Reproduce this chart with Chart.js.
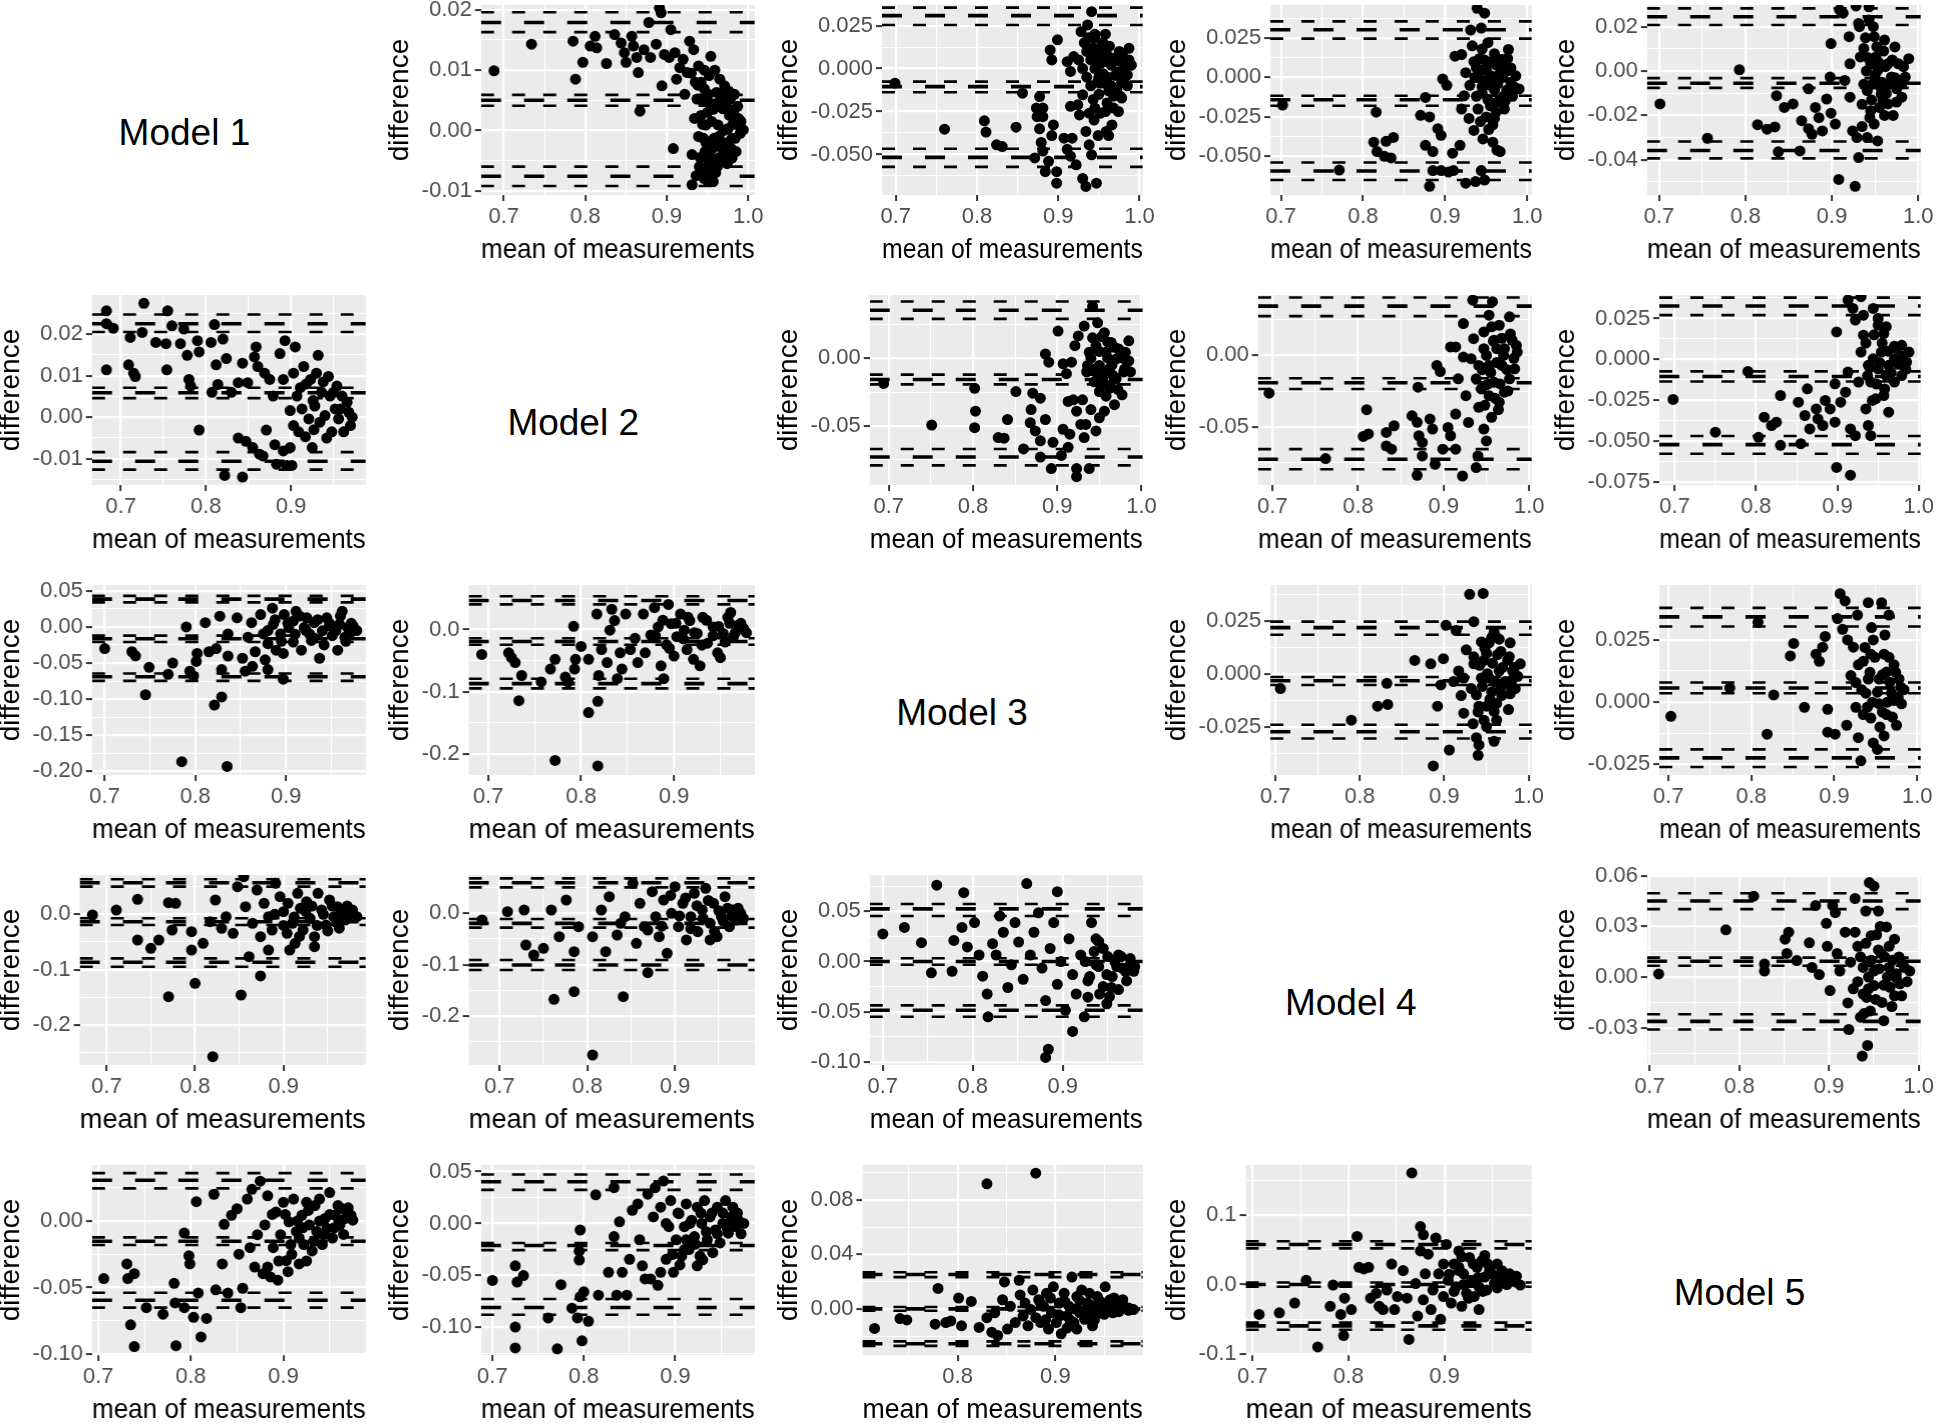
<!DOCTYPE html>
<html>
<head>
<meta charset="utf-8">
<script src="https://cdn.jsdelivr.net/npm/chart.js@4.4.1/dist/chart.umd.min.js"></script>
<style>
  body { margin: 0; background: #fff; }
  #page { position: relative; width: 1944px; height: 1425px; overflow: hidden; font-family: "Liberation Sans", Arial, sans-serif; }
  .cell { position: absolute; }
  .model { position: absolute; display: flex; align-items: center; justify-content: center; font-size: 37px; color: #000; }
</style>
</head>
<body>
<div id="page"></div>
<script>
// x tick labels
const xt4 = ['0.7', '0.8', '0.9', '1.0'];
const xt3 = ['0.7', '0.8', '0.9'];
const xt2 = ['0.8', '0.9'];

// limits of agreement: upper (ci hi, est, ci lo), mean (hi, est, lo), lower (hi, est, lo)
// Model 1 vs 2
const p12_xr = [0.672, 1.008];
const p12_yr = [-0.0107, 0.0208];
const p12_yt = ['-0.01', '0.00', '0.01', '0.02'];
const p12_lim = [0.0196, 0.0179, 0.0163, 0.0059, 0.0050, 0.0041, -0.0060, -0.0076, -0.0092];
const p12 = [[0.688,0.0099],[0.734,0.0143],[0.785,0.0148],[0.788,0.0085],[0.797,0.0113],[0.806,0.0140],[0.812,0.0156],[0.814,0.0137],[0.826,0.0111],[0.836,0.0159],[0.844,0.0145],[0.848,0.0129],[0.850,0.0113],[0.857,0.0156],[0.859,0.0140],[0.863,0.0121],[0.865,0.0096],[0.867,0.0032],[0.872,0.0134],[0.878,0.0179],[0.880,0.0121],[0.887,0.0143],[0.891,0.0203],[0.893,0.0195],[0.894,0.0074],[0.897,0.0126],[0.903,0.0121],[0.905,0.0167],[0.908,-0.0030],[0.910,0.0129],[0.912,0.0085],[0.916,0.0104],[0.920,0.0118],[0.925,0.0096],[0.928,0.0148],[0.931,-0.0040],[0.931,-0.0090],[0.933,0.0134],[0.935,0.0080],[0.937,0.0052],[0.939,0.0107],[0.942,0.0025],[0.944,-0.0068],[0.945,-0.0013],[0.946,0.0069],[0.948,0.0009],[0.950,-0.0084],[0.952,0.0091],[0.954,0.0123],[0.954,0.0042],[0.956,-0.0030],[0.958,-0.0057],[0.961,0.0063],[0.963,0.0009],[0.965,0.0085],[0.967,-0.0019],[0.969,0.0036],[0.971,0.0074],[0.973,-0.0040],[0.975,0.0003],[0.978,0.0052],[0.980,-0.0046],[0.982,0.0031],[0.984,-0.0013],[0.988,0.0020],[0.994,0.0001],[0.980,-0.0013],[0.958,-0.0013],[0.940,-0.0060],[0.947,-0.0035],[0.952,-0.0050],[0.960,-0.0025],[0.962,0.0040],[0.970,0.0000],[0.975,-0.0020],[0.965,-0.0045],[0.955,0.0015],[0.950,0.0030],[0.943,0.0050],[0.938,0.0075],[0.930,0.0095],[0.922,0.0060],[0.968,0.0060],[0.977,0.0025],[0.986,0.0010],[0.990,-0.0005],[0.946,-0.0080],[0.953,-0.0075],[0.960,-0.0070],[0.936,-0.0075],[0.941,-0.0045],[0.944,0.0010],[0.949,-0.0060],[0.951,0.0060],[0.955,-0.0045],[0.957,0.0035],[0.959,0.0100],[0.962,-0.0060],[0.964,-0.0010],[0.966,0.0050],[0.968,-0.0030],[0.972,0.0040],[0.974,-0.0055],[0.976,0.0065],[0.979,-0.0030],[0.981,0.0010],[0.983,0.0060],[0.985,-0.0035],[0.987,0.0040],[0.991,0.0015],[0.946,0.0100],[0.942,0.0080],[0.939,-0.0010],[0.934,0.0020],[0.957,-0.0085],[0.948,-0.0020]];

// Model 1 vs 3
const p13_xr = [0.683, 1.004];
const p13_yr = [-0.0736, 0.037];
const p13_yt = ['-0.050', '-0.025', '0.000', '0.025'];
const p13_lim = [0.0355, 0.0308, 0.0254, -0.0076, -0.0105, -0.0138, -0.0467, -0.0517, -0.0572];
const p13 = [[0.699,-0.0085],[0.760,-0.0353],[0.809,-0.0304],[0.811,-0.0370],[0.848,-0.0341],[0.824,-0.0444],[0.831,-0.0454],[0.856,-0.0143],[0.877,-0.0163],[0.873,-0.0230],[0.881,-0.0230],[0.874,-0.0280],[0.881,-0.0280],[0.877,-0.0351],[0.894,-0.0328],[0.892,-0.0390],[0.879,-0.0430],[0.871,-0.0520],[0.881,-0.0480],[0.888,-0.0540],[0.884,-0.0600],[0.898,-0.0600],[0.898,-0.0667],[0.907,-0.0405],[0.917,-0.0405],[0.911,-0.0470],[0.915,-0.0510],[0.922,-0.0560],[0.930,-0.0640],[0.934,-0.0686],[0.947,-0.0667],[0.934,-0.0366],[0.938,-0.0444],[0.941,-0.0502],[0.949,-0.0390],[0.962,-0.0390],[0.890,0.0108],[0.892,0.0050],[0.899,0.0167],[0.911,0.0040],[0.915,-0.0017],[0.919,0.0070],[0.928,0.0215],[0.941,0.0331],[0.936,0.0254],[0.945,0.0176],[0.951,0.0118],[0.987,0.0118],[0.983,0.0040],[0.985,-0.0037],[0.978,-0.0172],[0.974,-0.0250],[0.966,-0.0328],[0.959,-0.0366],[0.924,-0.0211],[0.926,-0.0270],[0.915,-0.0220],[0.930,-0.0153],[0.945,-0.0230],[0.935,0.0100],[0.940,0.0050],[0.945,0.0000],[0.950,-0.0050],[0.955,0.0150],[0.960,0.0080],[0.965,0.0020],[0.970,-0.0040],[0.975,0.0100],[0.980,0.0000],[0.940,-0.0100],[0.950,-0.0150],[0.960,-0.0200],[0.965,-0.0100],[0.955,-0.0030],[0.972,0.0050],[0.978,-0.0080],[0.945,0.0200],[0.958,0.0200],[0.930,0.0000],[0.935,-0.0050],[0.925,0.0050],[0.968,-0.0160],[0.952,-0.0260],[0.990,0.0020],[0.985,-0.0100],[0.932,0.0150],[0.937,0.0180],[0.942,0.0120],[0.947,0.0080],[0.952,0.0030],[0.957,-0.0080],[0.962,-0.0130],[0.967,0.0060],[0.973,-0.0020],[0.977,0.0040],[0.982,-0.0050],[0.987,0.0050],[0.943,-0.0180],[0.948,-0.0080],[0.953,0.0100],[0.958,-0.0250],[0.963,0.0130],[0.968,-0.0230],[0.972,-0.0120],[0.976,-0.0160],[0.938,-0.0260],[0.944,-0.0300],[0.956,0.0040],[0.961,-0.0050],[0.979,0.0080]];

// Model 1 vs 4
const p14_xr = [0.687, 1.0055];
const p14_yr = [-0.0745, 0.0459];
const p14_yt = ['-0.050', '-0.025', '0.000', '0.025'];
const p14_lim = [0.0355, 0.0302, 0.0246, -0.0116, -0.0141, -0.0179, -0.0539, -0.0593, -0.0650];
const p14 = [[0.702,-0.0175],[0.771,-0.0587],[0.816,-0.0220],[0.813,-0.0410],[0.817,-0.0470],[0.828,-0.0405],[0.837,-0.0380],[0.826,-0.0500],[0.834,-0.0510],[0.876,-0.0127],[0.870,-0.0240],[0.881,-0.0250],[0.876,-0.0430],[0.885,-0.0470],[0.891,-0.0325],[0.895,-0.0367],[0.881,-0.0690],[0.885,-0.0590],[0.895,-0.0590],[0.904,-0.0600],[0.910,-0.0590],[0.909,-0.0480],[0.918,-0.0430],[0.925,-0.0670],[0.937,-0.0660],[0.948,-0.0650],[0.944,-0.0590],[0.897,-0.0010],[0.902,-0.0050],[0.912,0.0135],[0.920,0.0145],[0.931,0.0300],[0.939,0.0438],[0.948,0.0407],[0.944,0.0313],[0.925,0.0030],[0.923,-0.0116],[0.920,-0.0200],[0.929,-0.0260],[0.935,-0.0336],[0.946,-0.0390],[0.958,-0.0410],[0.963,-0.0460],[0.967,-0.0470],[0.986,0.0010],[0.990,-0.0073],[0.977,0.0177],[0.969,0.0114],[0.952,0.0220],[0.935,0.0100],[0.940,0.0000],[0.945,-0.0100],[0.950,0.0050],[0.955,-0.0050],[0.960,0.0150],[0.965,-0.0150],[0.970,0.0000],[0.975,-0.0080],[0.980,0.0060],[0.940,-0.0200],[0.950,-0.0250],[0.958,-0.0300],[0.945,0.0180],[0.962,0.0080],[0.972,-0.0200],[0.930,-0.0050],[0.955,-0.0180],[0.968,0.0100],[0.982,-0.0120],[0.948,-0.0020],[0.938,0.0060],[0.960,-0.0080],[0.975,0.0040],[0.933,0.0200],[0.938,-0.0120],[0.942,0.0120],[0.947,0.0050],[0.952,-0.0140],[0.957,0.0100],[0.962,-0.0220],[0.966,0.0020],[0.971,-0.0120],[0.976,0.0120],[0.980,-0.0030],[0.984,-0.0060],[0.943,-0.0280],[0.953,-0.0330],[0.936,0.0000],[0.956,0.0010],[0.964,-0.0040],[0.948,0.0110],[0.960,-0.0260],[0.970,0.0080],[0.945,-0.0060],[0.973,-0.0150]];

// Model 1 vs 5
const p15_xr = [0.686, 1.003];
const p15_yr = [-0.0559, 0.0298];
const p15_yt = ['-0.04', '-0.02', '0.00', '0.02'];
const p15_lim = [0.0283, 0.0245, 0.0208, -0.0032, -0.0055, -0.0076, -0.0318, -0.0358, -0.0394];
const p15 = [[0.701,-0.0148],[0.756,-0.0303],[0.793,0.0006],[0.814,-0.0242],[0.825,-0.0262],[0.834,-0.0252],[0.836,-0.0111],[0.838,-0.0364],[0.863,-0.0360],[0.845,-0.0164],[0.855,-0.0148],[0.865,-0.0224],[0.873,-0.0080],[0.873,-0.0260],[0.877,-0.0285],[0.885,-0.0210],[0.889,-0.0270],[0.881,-0.0164],[0.894,-0.0126],[0.898,-0.0027],[0.899,0.0124],[0.904,-0.0239],[0.899,-0.0190],[0.908,-0.0489],[0.927,-0.0520],[0.931,-0.0390],[0.924,-0.0270],[0.929,-0.0300],[0.909,0.0276],[0.913,0.0261],[0.920,0.0155],[0.928,0.0294],[0.943,0.0290],[0.943,0.0230],[0.931,0.0215],[0.932,0.0200],[0.921,-0.0118],[0.915,-0.0042],[0.921,0.0033],[0.933,0.0064],[0.937,0.0102],[0.949,-0.0239],[0.945,-0.0179],[0.941,-0.0300],[0.953,-0.0315],[0.971,-0.0200],[0.963,-0.0102],[0.989,0.0056],[0.985,-0.0027],[0.981,-0.0058],[0.973,0.0109],[0.961,0.0140],[0.953,0.0003],[0.947,-0.0058],[0.977,0.0033],[0.965,0.0033],[0.957,-0.0103],[0.955,-0.0164],[0.965,-0.0148],[0.969,-0.0027],[0.981,-0.0118],[0.951,0.0064],[0.945,0.0033],[0.941,-0.0088],[0.949,0.0155],[0.940,0.0000],[0.958,-0.0050],[0.975,-0.0080],[0.960,0.0090],[0.935,-0.0150],[0.937,-0.0060],[0.942,0.0060],[0.946,-0.0130],[0.950,-0.0020],[0.954,0.0040],[0.956,-0.0070],[0.959,-0.0130],[0.962,0.0020],[0.966,-0.0060],[0.970,0.0050],[0.973,-0.0030],[0.978,-0.0060],[0.983,0.0020],[0.952,0.0110],[0.944,-0.0210],[0.961,-0.0200],[0.975,-0.0140],[0.939,0.0150],[0.948,0.0200],[0.935,-0.0250]];

// Model 2 vs 1
const p21_xr = [0.666, 0.988];
const p21_yr = [-0.0163, 0.0294];
const p21_yt = ['-0.01', '0.00', '0.01', '0.02'];
const p21_lim = [0.0247, 0.0225, 0.0205, 0.0071, 0.0059, 0.0046, -0.0084, -0.0106, -0.0126];
const p21 = [[0.683,0.0256],[0.683,0.0225],[0.691,0.0214],[0.683,0.0114],[0.727,0.0274],[0.725,0.0204],[0.709,0.0126],[0.711,0.0192],[0.717,0.0098],[0.715,0.0106],[0.741,0.0180],[0.753,0.0177],[0.755,0.0256],[0.760,0.0220],[0.754,0.0114],[0.770,0.0177],[0.774,0.0212],[0.778,0.0149],[0.780,0.0091],[0.782,0.0075],[0.790,0.0184],[0.792,0.0157],[0.792,-0.0031],[0.806,0.0180],[0.810,0.0223],[0.812,0.0126],[0.814,0.0079],[0.807,0.0060],[0.822,-0.0140],[0.824,0.0141],[0.820,0.0188],[0.830,0.0060],[0.838,-0.0050],[0.843,-0.0144],[0.843,0.0130],[0.838,0.0083],[0.849,0.0083],[0.847,-0.0058],[0.855,-0.0073],[0.859,0.0169],[0.857,0.0145],[0.861,0.0122],[0.863,-0.0089],[0.867,-0.0093],[0.871,-0.0031],[0.869,0.0106],[0.875,0.0091],[0.879,0.0051],[0.881,-0.0066],[0.883,-0.0113],[0.887,0.0153],[0.893,0.0184],[0.891,0.0091],[0.891,-0.0081],[0.895,-0.0116],[0.899,-0.0073],[0.901,-0.0116],[0.903,0.0106],[0.905,0.0169],[0.903,-0.0020],[0.899,0.0016],[0.907,0.0051],[0.909,-0.0035],[0.911,0.0071],[0.913,0.0020],[0.915,0.0122],[0.917,-0.0047],[0.921,-0.0004],[0.923,0.0091],[0.925,-0.0073],[0.928,0.0027],[0.930,0.0106],[0.932,0.0149],[0.934,-0.0012],[0.936,0.0060],[0.940,0.0004],[0.942,-0.0050],[0.944,0.0098],[0.946,0.0051],[0.948,-0.0035],[0.952,0.0020],[0.954,0.0075],[0.956,-0.0004],[0.960,0.0051],[0.962,-0.0035],[0.966,0.0036],[0.968,0.0012],[0.970,-0.0020],[0.972,0.0000],[0.918,0.0080],[0.926,0.0040],[0.938,0.0085],[0.950,0.0060],[0.958,0.0020],[0.927,-0.0030]];

// Model 2 vs 3
const p23_xr = [0.6775, 1.0016];
const p23_yr = [-0.0935, 0.0466];
const p23_yt = ['-0.05', '0.00'];
const p23_lim = [0.0418, 0.0353, 0.0290, -0.0121, -0.0157, -0.0193, -0.0669, -0.0729, -0.0790];
const p23 = [[0.694,-0.0186],[0.751,-0.0493],[0.802,-0.0222],[0.803,-0.0391],[0.802,-0.0512],[0.830,-0.0585],[0.837,-0.0590],[0.841,-0.0452],[0.851,-0.0246],[0.860,-0.0669],[0.869,-0.0379],[0.871,-0.0258],[0.880,-0.0295],[0.868,-0.0476],[0.874,-0.0536],[0.880,-0.0609],[0.886,-0.0452],[0.880,-0.0729],[0.893,-0.0814],[0.895,-0.0620],[0.905,-0.0717],[0.907,-0.0524],[0.915,-0.0560],[0.913,-0.0657],[0.923,-0.0814],[0.923,-0.0874],[0.938,-0.0814],[0.901,0.0200],[0.886,0.0031],[0.890,-0.0029],[0.907,-0.0041],[0.911,-0.0114],[0.917,-0.0029],[0.913,-0.0319],[0.919,-0.0307],[0.923,-0.0391],[0.930,-0.0307],[0.928,-0.0488],[0.932,-0.0585],[0.934,-0.0488],[0.940,-0.0379],[0.946,-0.0536],[0.950,-0.0440],[0.956,-0.0391],[0.942,0.0382],[0.932,0.0237],[0.925,0.0164],[0.921,0.0092],[0.948,0.0261],[0.956,0.0188],[0.964,0.0116],[0.985,0.0128],[0.983,-0.0029],[0.987,-0.0101],[0.977,-0.0270],[0.968,-0.0343],[0.962,-0.0222],[0.950,-0.0246],[0.944,-0.0174],[0.950,-0.0053],[0.958,0.0043],[0.970,-0.0005],[0.979,-0.0101],[0.966,-0.0126],[0.954,-0.0150],[0.938,0.0043],[0.936,-0.0053],[0.962,-0.0077],[0.973,0.0068],[0.981,0.0043],[0.946,0.0092],[0.952,-0.0198],[0.935,-0.0100],[0.940,0.0000],[0.945,-0.0080],[0.950,0.0050],[0.955,-0.0100],[0.960,0.0000],[0.965,-0.0050],[0.970,-0.0150],[0.975,0.0050],[0.980,-0.0080],[0.985,-0.0020],[0.958,-0.0280],[0.948,-0.0120],[0.963,-0.0200],[0.972,-0.0230],[0.942,0.0150],[0.953,0.0160],[0.968,0.0080],[0.978,0.0000],[0.960,0.0120]];

// Model 2 vs 4
const p24_xr = [0.683, 1.003];
const p24_yr = [-0.0908, 0.0423];
const p24_yt = ['-0.05', '0.00'];
const p24_lim = [0.0406, 0.0345, 0.0275, -0.0160, -0.0192, -0.0235, -0.0657, -0.0728, -0.0798];
const p24 = [[0.696,-0.0265],[0.762,-0.0723],[0.810,-0.0380],[0.806,-0.0568],[0.812,-0.0550],[0.833,-0.0540],[0.842,-0.0493],[0.833,-0.0634],[0.839,-0.0657],[0.863,-0.0423],[0.869,-0.0469],[0.870,-0.0223],[0.871,-0.0563],[0.875,-0.0610],[0.869,-0.0840],[0.884,-0.0446],[0.887,-0.0516],[0.875,-0.0704],[0.890,-0.0763],[0.892,-0.0070],[0.896,-0.0113],[0.899,-0.0657],[0.908,0.0059],[0.914,0.0059],[0.905,-0.0505],[0.908,-0.0563],[0.914,-0.0657],[0.917,-0.0164],[0.922,-0.0845],[0.914,-0.0411],[0.923,0.0223],[0.923,-0.0012],[0.926,-0.0282],[0.929,-0.0470],[0.934,0.0387],[0.940,-0.0704],[0.938,-0.0786],[0.941,-0.0364],[0.947,-0.0516],[0.950,-0.0599],[0.953,0.0282],[0.956,-0.0434],[0.957,0.0376],[0.947,0.0164],[0.935,0.0117],[0.962,0.0047],[0.965,0.0211],[0.977,0.0270],[0.986,0.0023],[0.983,-0.0094],[0.977,-0.0164],[0.971,-0.0258],[0.965,-0.0329],[0.959,-0.0188],[0.953,-0.0070],[0.947,0.0047],[0.941,-0.0070],[0.938,-0.0164],[0.944,-0.0235],[0.971,0.0047],[0.980,0.0106],[0.968,-0.0070],[0.959,0.0106],[0.932,-0.0023],[0.953,-0.0282],[0.945,-0.0100],[0.950,0.0000],[0.955,-0.0120],[0.958,0.0100],[0.962,-0.0050],[0.966,-0.0200],[0.970,0.0000],[0.974,-0.0100],[0.978,0.0150],[0.982,-0.0020],[0.960,-0.0300],[0.956,0.0200],[0.968,0.0120],[0.952,-0.0200],[0.975,-0.0250],[0.985,0.0070],[0.948,-0.0350],[0.964,-0.0380]];

// Model 2 vs 5
const p25_xr = [0.681, 1.0025];
const p25_yr = [-0.0766, 0.0393];
const p25_yt = ['-0.075', '-0.050', '-0.025', '0.000', '0.025'];
const p25_lim = [0.0377, 0.0326, 0.0270, -0.0073, -0.0104, -0.0135, -0.0467, -0.0520, -0.0575];
const p25 = [[0.698,-0.0244],[0.750,-0.0444],[0.790,-0.0073],[0.803,-0.0475],[0.810,-0.0352],[0.819,-0.0403],[0.825,-0.0383],[0.830,-0.0220],[0.830,-0.0524],[0.852,-0.0261],[0.855,-0.0514],[0.863,-0.0179],[0.860,-0.0342],[0.866,-0.0424],[0.874,-0.0302],[0.876,-0.0363],[0.882,-0.0403],[0.885,-0.0250],[0.891,-0.0302],[0.897,-0.0383],[0.899,0.0168],[0.899,-0.0659],[0.916,-0.0706],[0.897,-0.0149],[0.904,-0.0261],[0.913,0.0362],[0.919,0.0311],[0.922,0.0240],[0.913,-0.0077],[0.910,-0.0200],[0.916,-0.0424],[0.922,-0.0465],[0.929,0.0383],[0.932,0.0270],[0.932,0.0148],[0.929,0.0045],[0.926,-0.0138],[0.935,-0.0302],[0.938,-0.0403],[0.941,-0.0465],[0.941,-0.0138],[0.944,0.0311],[0.950,0.0209],[0.957,0.0158],[0.954,0.0045],[0.950,-0.0057],[0.963,-0.0322],[0.957,-0.0220],[0.973,0.0066],[0.988,0.0045],[0.985,-0.0016],[0.979,-0.0098],[0.970,-0.0138],[0.963,-0.0036],[0.944,0.0004],[0.938,-0.0036],[0.960,-0.0098],[0.970,0.0004],[0.979,0.0086],[0.947,-0.0240],[0.935,0.0100],[0.940,-0.0050],[0.945,0.0150],[0.948,-0.0150],[0.952,-0.0020],[0.955,0.0100],[0.958,-0.0180],[0.962,0.0050],[0.966,-0.0080],[0.970,0.0080],[0.975,-0.0030],[0.980,0.0020],[0.984,-0.0060],[0.943,-0.0250],[0.950,0.0250],[0.960,0.0200],[0.937,-0.0100]];

// Model 3 vs 1
const p31_xr = [0.686, 0.988];
const p31_yr = [-0.205, 0.058];
const p31_yt = ['-0.20', '-0.15', '-0.10', '-0.05', '0.00', '0.05'];
const p31_lim = [0.0430, 0.0385, 0.0340, -0.0121, -0.0165, -0.0210, -0.0644, -0.0689, -0.0747];
const p31 = [[0.700,-0.0300],[0.730,-0.0344],[0.734,-0.0400],[0.749,-0.0559],[0.745,-0.0939],[0.770,-0.0657],[0.775,-0.0500],[0.785,-0.1865],[0.790,0.0000],[0.794,-0.0613],[0.801,-0.0478],[0.802,-0.0367],[0.798,-0.0680],[0.811,0.0058],[0.815,-0.0344],[0.821,-0.1082],[0.829,-0.0970],[0.827,0.0148],[0.823,-0.0300],[0.829,-0.0590],[0.835,-0.1932],[0.836,-0.0098],[0.836,-0.0403],[0.846,0.0125],[0.852,-0.0434],[0.855,-0.0613],[0.858,-0.0143],[0.862,0.0058],[0.866,-0.0344],[0.872,0.0170],[0.875,-0.0098],[0.877,-0.0456],[0.880,-0.0233],[0.885,0.0259],[0.886,0.0036],[0.889,-0.0322],[0.894,-0.0098],[0.897,-0.0367],[0.898,0.0170],[0.903,-0.0009],[0.908,-0.0210],[0.911,0.0215],[0.917,-0.0322],[0.920,-0.0009],[0.923,0.0125],[0.928,-0.0188],[0.931,0.0058],[0.937,-0.0434],[0.940,-0.0054],[0.945,0.0125],[0.951,-0.0121],[0.957,-0.0322],[0.959,0.0036],[0.962,0.0215],[0.968,-0.0009],[0.974,0.0013],[0.965,-0.0143],[0.897,-0.0724],[0.880,-0.0590],[0.908,0.0080],[0.926,-0.0098],[0.948,0.0013],[0.971,-0.0076],[0.863,-0.0545],[0.880,-0.0050],[0.888,0.0100],[0.895,-0.0200],[0.902,0.0050],[0.910,-0.0100],[0.915,0.0150],[0.922,-0.0050],[0.930,-0.0150],[0.935,0.0100],[0.942,-0.0250],[0.948,0.0050],[0.955,-0.0050],[0.960,0.0150],[0.966,-0.0200],[0.972,0.0050],[0.978,-0.0050]];

// Model 3 vs 2
const p32_xr = [0.679, 0.987];
const p32_yr = [-0.2338, 0.0717];
const p32_yt = ['-0.2', '-0.1', '0.0'];
const p32_lim = [0.0535, 0.0468, 0.0405, -0.0140, -0.0192, -0.0244, -0.0790, -0.0868, -0.0945];
const p32 = [[0.693,-0.0400],[0.722,-0.0374],[0.725,-0.0452],[0.729,-0.0530],[0.736,-0.0738],[0.733,-0.1143],[0.757,-0.0842],[0.767,-0.0634],[0.772,-0.0478],[0.772,-0.2104],[0.783,-0.0764],[0.786,-0.0842],[0.792,0.0052],[0.794,-0.0478],[0.793,-0.0634],[0.800,-0.0270],[0.808,-0.0478],[0.808,-0.1335],[0.818,-0.1153],[0.818,-0.2192],[0.817,0.0249],[0.819,-0.0738],[0.822,-0.0322],[0.828,-0.0530],[0.831,-0.0010],[0.833,0.0327],[0.836,0.0145],[0.839,-0.0790],[0.842,-0.0374],[0.844,-0.0634],[0.848,0.0249],[0.853,-0.0322],[0.858,-0.0140],[0.861,-0.0530],[0.867,0.0249],[0.869,-0.0374],[0.875,-0.0088],[0.879,0.0353],[0.883,0.0042],[0.886,-0.0582],[0.889,-0.0790],[0.892,-0.0244],[0.894,0.0405],[0.897,0.0093],[0.900,-0.0426],[0.903,-0.0114],[0.907,0.0249],[0.911,-0.0010],[0.914,-0.0322],[0.917,0.0145],[0.921,-0.0478],[0.925,-0.0062],[0.928,-0.0582],[0.931,0.0197],[0.936,-0.0218],[0.942,0.0042],[0.947,-0.0374],[0.950,-0.0452],[0.953,-0.0062],[0.958,0.0197],[0.961,0.0275],[0.964,-0.0114],[0.969,0.0068],[0.975,0.0016],[0.880,-0.0100],[0.888,0.0150],[0.895,-0.0300],[0.902,0.0100],[0.910,-0.0150],[0.915,0.0200],[0.922,-0.0050],[0.930,-0.0250],[0.935,0.0150],[0.942,-0.0100],[0.948,0.0050],[0.955,-0.0200],[0.960,0.0100],[0.966,-0.0050],[0.972,0.0100],[0.978,-0.0050]];

// Model 3 vs 4
const p34_xr = [0.694, 1.0036];
const p34_yr = [-0.0478, 0.0419];
const p34_yt = ['-0.025', '0.000', '0.025'];
const p34_lim = [0.0246, 0.0218, 0.0184, -0.0015, -0.0033, -0.0053, -0.0241, -0.0274, -0.0306];
const p34 = [[0.706,-0.0070],[0.790,-0.0219],[0.821,-0.0153],[0.833,-0.0145],[0.832,-0.0045],[0.865,0.0063],[0.884,0.0047],[0.887,-0.0435],[0.892,-0.0153],[0.896,-0.0053],[0.899,0.0071],[0.902,0.0229],[0.906,-0.0360],[0.914,0.0204],[0.917,0.0013],[0.920,-0.0103],[0.923,-0.0186],[0.926,0.0113],[0.930,0.0375],[0.934,-0.0236],[0.935,0.0246],[0.938,-0.0302],[0.940,-0.0385],[0.941,-0.0336],[0.944,-0.0020],[0.946,0.0379],[0.947,0.0063],[0.950,-0.0153],[0.953,0.0146],[0.956,-0.0086],[0.959,0.0196],[0.959,-0.0319],[0.962,-0.0219],[0.965,0.0013],[0.967,0.0105],[0.968,-0.0103],[0.972,-0.0037],[0.975,0.0063],[0.976,-0.0169],[0.978,0.0146],[0.981,0.0013],[0.984,-0.0070],[0.987,-0.0012],[0.990,0.0047],[0.932,-0.0070],[0.923,-0.0020],[0.941,-0.0153],[0.953,-0.0020],[0.935,0.0047],[0.911,-0.0037],[0.959,-0.0178],[0.950,0.0096],[0.965,0.0163],[0.978,-0.0095],[0.947,-0.0219],[0.935,0.0080],[0.938,-0.0100],[0.942,0.0040],[0.945,-0.0060],[0.948,0.0120],[0.951,0.0000],[0.954,-0.0120],[0.957,0.0050],[0.960,-0.0040],[0.963,0.0090],[0.966,-0.0080],[0.969,0.0030],[0.973,-0.0050],[0.977,0.0080],[0.980,-0.0030],[0.983,0.0030],[0.944,0.0150],[0.956,0.0170],[0.962,-0.0140],[0.950,-0.0250],[0.940,-0.0180]];

// Model 3 vs 5
const p35_xr = [0.689, 1.0043];
const p35_yr = [-0.0293, 0.0471];
const p35_yt = ['-0.025', '0.000', '0.025'];
const p35_lim = [0.0379, 0.0343, 0.0304, 0.0079, 0.0057, 0.0036, -0.0190, -0.0224, -0.0261];
const p35 = [[0.703,-0.0057],[0.774,0.0057],[0.808,0.0321],[0.819,-0.0129],[0.827,0.0029],[0.847,0.0186],[0.851,0.0236],[0.864,-0.0021],[0.878,0.0193],[0.882,0.0164],[0.886,0.0221],[0.892,-0.0029],[0.892,-0.0121],[0.901,-0.0129],[0.889,0.0264],[0.904,0.0336],[0.907,0.0436],[0.913,0.0407],[0.910,0.0293],[0.916,0.0250],[0.915,-0.0093],[0.920,0.0107],[0.923,0.0221],[0.926,-0.0021],[0.928,0.0350],[0.929,-0.0143],[0.932,-0.0236],[0.935,0.0164],[0.938,0.0036],[0.941,0.0400],[0.944,-0.0064],[0.947,0.0250],[0.947,-0.0164],[0.954,0.0093],[0.957,0.0400],[0.960,0.0193],[0.963,-0.0050],[0.966,0.0350],[0.969,0.0036],[0.972,0.0150],[0.975,-0.0093],[0.978,0.0093],[0.981,-0.0007],[0.984,0.0050],[0.941,0.0093],[0.954,-0.0007],[0.929,0.0150],[0.963,0.0121],[0.972,0.0007],[0.944,0.0193],[0.935,-0.0050],[0.960,-0.0136],[0.926,0.0079],[0.933,0.0050],[0.937,0.0220],[0.940,-0.0020],[0.943,0.0120],[0.946,0.0000],[0.949,0.0180],[0.952,0.0040],[0.955,-0.0100],[0.958,0.0110],[0.961,0.0270],[0.964,0.0000],[0.967,0.0080],[0.970,-0.0060],[0.974,0.0120],[0.977,0.0020],[0.980,0.0060],[0.952,-0.0190],[0.945,0.0300],[0.958,-0.0040],[0.966,0.0180]];

// Model 4 vs 1
const p41_xr = [0.6696, 0.993];
const p41_yr = [-0.2723, 0.0711];
const p41_yt = ['-0.2', '-0.1', '0.0'];
const p41_lim = [0.0633, 0.0572, 0.0500, -0.0072, -0.0133, -0.0193, -0.0795, -0.0867, -0.0946];
const p41 = [[0.684,-0.0012],[0.711,0.0078],[0.735,0.0271],[0.735,-0.0464],[0.750,-0.0614],[0.759,-0.0464],[0.770,-0.1488],[0.770,0.0211],[0.778,0.0199],[0.774,-0.0283],[0.796,-0.0313],[0.796,-0.0645],[0.800,-0.1247],[0.809,-0.0524],[0.817,-0.0133],[0.820,-0.2572],[0.823,0.0259],[0.830,-0.0253],[0.835,-0.0042],[0.843,-0.0343],[0.848,0.0500],[0.852,-0.1458],[0.855,0.0680],[0.857,0.0139],[0.861,-0.0765],[0.865,-0.0163],[0.870,0.0440],[0.874,-0.1114],[0.874,-0.0404],[0.878,0.0199],[0.883,-0.0042],[0.887,-0.0283],[0.891,0.0560],[0.896,0.0319],[0.900,0.0048],[0.904,-0.0343],[0.907,-0.0645],[0.910,-0.0163],[0.916,0.0380],[0.919,0.0108],[0.922,-0.0283],[0.926,0.0229],[0.930,-0.0072],[0.935,-0.0404],[0.939,0.0380],[0.943,0.0078],[0.948,-0.0193],[0.952,0.0259],[0.957,-0.0042],[0.961,0.0139],[0.965,0.0018],[0.970,-0.0102],[0.974,-0.0012],[0.978,0.0078],[0.983,-0.0042],[0.913,-0.0524],[0.883,-0.0645],[0.935,-0.0584],[0.905,0.0200],[0.912,-0.0050],[0.918,-0.0400],[0.925,0.0050],[0.932,0.0150],[0.938,-0.0200],[0.945,0.0000],[0.950,-0.0300],[0.955,0.0150],[0.960,-0.0150],[0.968,0.0050],[0.972,0.0150],[0.963,-0.0250],[0.900,-0.0200],[0.890,0.0000]];

// Model 4 vs 2
const p42_xr = [0.6648, 0.991];
const p42_yr = [-0.2955, 0.0747];
const p42_yt = ['-0.2', '-0.1', '0.0'];
const p42_lim = [0.0682, 0.0597, 0.0506, -0.0110, -0.0195, -0.0279, -0.0909, -0.1006, -0.1104];
const p42 = [[0.680,-0.0130],[0.709,0.0032],[0.728,0.0065],[0.730,-0.0617],[0.739,-0.0812],[0.750,-0.0682],[0.759,0.0065],[0.762,-0.1675],[0.768,-0.0455],[0.776,0.0260],[0.785,-0.0747],[0.785,-0.1526],[0.790,-0.0260],[0.806,-0.0455],[0.806,-0.2760],[0.816,0.0065],[0.821,-0.0747],[0.825,0.0325],[0.834,-0.0422],[0.841,-0.1623],[0.843,-0.0065],[0.852,0.0584],[0.856,-0.0584],[0.860,0.0195],[0.865,-0.0260],[0.869,-0.1156],[0.874,0.0422],[0.878,-0.0065],[0.882,-0.0455],[0.887,0.0260],[0.891,-0.0779],[0.896,0.0000],[0.900,0.0519],[0.904,-0.0260],[0.909,0.0195],[0.913,-0.0519],[0.918,-0.0065],[0.922,0.0390],[0.926,-0.0357],[0.931,0.0065],[0.935,0.0487],[0.940,-0.0195],[0.944,0.0195],[0.948,-0.0455],[0.953,-0.0065],[0.957,0.0325],[0.962,-0.0260],[0.966,0.0065],[0.970,-0.0130],[0.975,0.0000],[0.869,-0.0325],[0.838,-0.0195],[0.940,-0.0519],[0.905,-0.0050],[0.912,0.0300],[0.918,-0.0300],[0.925,0.0150],[0.932,-0.0100],[0.938,0.0250],[0.945,-0.0350],[0.950,0.0050],[0.955,-0.0150],[0.960,0.0100],[0.965,-0.0050],[0.972,0.0100],[0.978,-0.0100],[0.895,0.0350],[0.885,-0.0250]];

// Model 4 vs 3
const p43_xr = [0.6855, 0.989];
const p43_yr = [-0.1032, 0.0863];
const p43_yt = ['-0.10', '-0.05', '0.00', '0.05'];
const p43_lim = [0.0574, 0.0525, 0.0454, 0.0032, 0.0000, -0.0032, -0.0437, -0.0486, -0.0551];
const p43 = [[0.700,0.0275],[0.724,0.0340],[0.743,0.0188],[0.754,-0.0113],[0.760,0.0762],[0.777,-0.0097],[0.779,0.0210],[0.788,0.0340],[0.790,0.0687],[0.794,0.0146],[0.802,0.0389],[0.807,0.0065],[0.811,-0.0146],[0.816,-0.0324],[0.817,-0.0551],[0.822,0.0178],[0.826,0.0065],[0.830,0.0454],[0.834,0.0292],[0.839,-0.0259],[0.843,-0.0032],[0.847,0.0389],[0.851,0.0194],[0.856,-0.0178],[0.860,0.0778],[0.864,0.0065],[0.868,0.0292],[0.873,0.0486],[0.877,-0.0065],[0.881,-0.0389],[0.884,-0.0875],[0.881,-0.0956],[0.886,0.0130],[0.890,0.0389],[0.894,0.0697],[0.894,-0.0227],[0.898,0.0000],[0.903,-0.0486],[0.907,0.0227],[0.911,-0.0697],[0.911,-0.0130],[0.915,-0.0324],[0.920,0.0065],[0.924,-0.0551],[0.928,-0.0194],[0.932,0.0389],[0.937,-0.0032],[0.941,-0.0324],[0.945,0.0130],[0.949,-0.0130],[0.954,-0.0259],[0.958,0.0000],[0.962,0.0065],[0.966,-0.0065],[0.971,-0.0194],[0.975,-0.0032],[0.979,-0.0097],[0.928,-0.0356],[0.949,-0.0421],[0.937,0.0227],[0.925,0.0000],[0.930,-0.0150],[0.935,0.0100],[0.940,-0.0050],[0.945,-0.0250],[0.950,0.0050],[0.955,-0.0150],[0.960,-0.0050],[0.965,0.0050],[0.970,-0.0100],[0.975,0.0030],[0.980,-0.0050],[0.952,-0.0350],[0.940,0.0200],[0.962,-0.0280]];

// Model 4 vs 5
const p45_xr = [0.697, 1.0023];
const p45_yr = [-0.052, 0.0604];
const p45_yt = ['-0.03', '0.00', '0.03', '0.06'];
const p45_lim = [0.0496, 0.0450, 0.0402, 0.0115, 0.0094, 0.0067, -0.0220, -0.0262, -0.0310];
const p45 = [[0.710,0.0019],[0.785,0.0280],[0.816,0.0479],[0.828,0.0077],[0.828,0.0036],[0.851,0.0224],[0.855,0.0266],[0.853,0.0140],[0.864,0.0098],[0.878,0.0203],[0.881,0.0057],[0.885,0.0423],[0.889,0.0015],[0.897,0.0318],[0.898,0.0182],[0.901,-0.0080],[0.904,0.0423],[0.907,0.0381],[0.909,0.0140],[0.912,0.0036],[0.918,0.0266],[0.921,-0.0153],[0.922,-0.0310],[0.924,0.0088],[0.927,-0.0069],[0.929,0.0465],[0.932,0.0182],[0.935,-0.0237],[0.937,-0.0467],[0.939,-0.0216],[0.941,0.0391],[0.943,-0.0404],[0.945,0.0559],[0.950,0.0538],[0.947,0.0245],[0.950,0.0036],[0.952,-0.0132],[0.955,0.0391],[0.958,0.0140],[0.961,-0.0048],[0.964,0.0297],[0.967,0.0057],[0.970,-0.0174],[0.973,0.0224],[0.975,-0.0006],[0.978,0.0119],[0.981,-0.0111],[0.984,0.0057],[0.987,-0.0027],[0.990,0.0036],[0.938,0.0057],[0.932,-0.0027],[0.944,-0.0069],[0.955,0.0161],[0.967,0.0182],[0.929,0.0266],[0.961,-0.0258],[0.973,-0.0111],[0.935,0.0120],[0.938,-0.0100],[0.941,0.0200],[0.944,0.0000],[0.947,0.0100],[0.950,-0.0050],[0.953,0.0250],[0.956,0.0050],[0.959,-0.0150],[0.962,0.0120],[0.965,0.0000],[0.968,-0.0060],[0.971,0.0100],[0.975,0.0020],[0.979,-0.0040],[0.982,0.0080],[0.946,-0.0200],[0.957,0.0300],[0.942,-0.0120]];

// Model 5 vs 1
const p51_xr = [0.6933, 0.989];
const p51_yr = [-0.1007, 0.0422];
const p51_yt = ['-0.10', '-0.05', '0.00'];
const p51_lim = [0.0361, 0.0307, 0.0246, -0.0122, -0.0151, -0.0180, -0.0539, -0.0595, -0.0651];
const p51 = [[0.706,-0.0432],[0.731,-0.0322],[0.732,-0.0432],[0.739,-0.0395],[0.735,-0.0780],[0.739,-0.0944],[0.752,-0.0651],[0.770,-0.0700],[0.782,-0.0468],[0.784,-0.0937],[0.783,-0.0615],[0.793,-0.0090],[0.793,-0.0651],[0.798,-0.0261],[0.799,-0.0322],[0.803,-0.0724],[0.806,0.0146],[0.808,-0.0541],[0.811,-0.0871],[0.817,-0.0732],[0.825,0.0202],[0.827,-0.0517],[0.834,-0.0322],[0.836,-0.0024],[0.840,-0.0541],[0.844,0.0044],[0.850,0.0093],[0.852,-0.0249],[0.854,-0.0651],[0.856,-0.0505],[0.861,0.0166],[0.864,-0.0200],[0.866,0.0239],[0.869,-0.0346],[0.872,-0.0102],[0.875,0.0300],[0.878,-0.0395],[0.880,-0.0029],[0.883,0.0190],[0.886,-0.0420],[0.889,-0.0200],[0.892,0.0068],[0.894,-0.0444],[0.897,-0.0102],[0.900,0.0141],[0.903,-0.0298],[0.906,-0.0005],[0.908,-0.0176],[0.911,0.0166],[0.914,-0.0078],[0.917,-0.0322],[0.920,0.0044],[0.922,-0.0176],[0.925,0.0141],[0.928,-0.0029],[0.931,-0.0224],[0.934,0.0117],[0.936,-0.0078],[0.939,0.0166],[0.942,-0.0176],[0.945,0.0020],[0.947,-0.0054],[0.950,0.0215],[0.953,-0.0127],[0.956,0.0044],[0.959,0.0117],[0.961,-0.0029],[0.964,0.0093],[0.967,0.0020],[0.973,0.0044],[0.975,0.0007],[0.883,-0.0346],[0.917,-0.0127],[0.888,0.0050],[0.895,-0.0300],[0.902,0.0050],[0.909,-0.0250],[0.915,0.0000],[0.921,-0.0050],[0.927,0.0080],[0.933,-0.0150],[0.939,0.0000],[0.944,-0.0100],[0.950,0.0050],[0.955,-0.0050],[0.960,0.0000],[0.965,-0.0100],[0.970,0.0100],[0.905,-0.0380],[0.925,-0.0300]];

// Model 5 vs 2
const p52_xr = [0.6875, 0.987];
const p52_yr = [-0.1267, 0.0563];
const p52_yt = ['-0.10', '-0.05', '0.00', '0.05'];
const p52_lim = [0.0471, 0.0402, 0.0323, -0.0188, -0.0213, -0.0257, -0.0728, -0.0810, -0.0879];
const p52 = [[0.700,-0.0549],[0.725,-0.0408],[0.727,-0.0565],[0.734,-0.0502],[0.725,-0.0998],[0.725,-0.1199],[0.761,-0.0910],[0.775,-0.0590],[0.771,-0.1208],[0.787,-0.0816],[0.793,-0.0910],[0.796,-0.0063],[0.795,-0.0267],[0.795,-0.0352],[0.796,-0.0706],[0.798,-0.1130],[0.800,-0.0659],[0.805,-0.0942],[0.813,0.0276],[0.816,-0.0691],[0.827,-0.0471],[0.833,0.0345],[0.833,-0.0126],[0.836,-0.0691],[0.839,0.0016],[0.842,-0.0471],[0.847,-0.0691],[0.850,-0.0345],[0.853,0.0126],[0.859,0.0188],[0.861,-0.0157],[0.864,-0.0408],[0.870,0.0282],[0.873,-0.0534],[0.876,0.0063],[0.878,0.0345],[0.881,-0.0596],[0.884,0.0157],[0.887,0.0408],[0.890,-0.0345],[0.893,-0.0031],[0.895,0.0220],[0.898,-0.0471],[0.901,-0.0157],[0.904,0.0094],[0.907,-0.0314],[0.910,-0.0031],[0.912,0.0188],[0.915,-0.0251],[0.918,0.0031],[0.921,-0.0126],[0.924,0.0157],[0.927,-0.0314],[0.929,0.0000],[0.932,0.0220],[0.935,-0.0157],[0.938,0.0063],[0.941,-0.0282],[0.944,-0.0063],[0.946,0.0157],[0.949,-0.0188],[0.952,0.0000],[0.955,0.0220],[0.958,-0.0094],[0.961,0.0063],[0.963,0.0157],[0.966,-0.0031],[0.969,0.0031],[0.975,0.0000],[0.884,-0.0471],[0.867,-0.0534],[0.924,-0.0408],[0.912,-0.0157],[0.890,0.0000],[0.897,-0.0300],[0.903,0.0100],[0.910,-0.0250],[0.916,0.0000],[0.922,-0.0200],[0.928,0.0100],[0.934,-0.0080],[0.940,0.0100],[0.946,-0.0100],[0.952,0.0100],[0.957,-0.0050],[0.962,0.0000],[0.968,0.0100],[0.972,-0.0100],[0.905,-0.0400],[0.930,-0.0350]];

// Model 5 vs 3
const p53_xr = [0.7026, 0.9895];
const p53_yr = [-0.0338, 0.1055];
const p53_yt = ['0.00', '0.04', '0.08'];
const p53_lim = [0.0269, 0.0252, 0.0233, 0.0014, 0.0000, -0.0014, -0.0238, -0.0255, -0.0271];
const p53 = [[0.715,-0.0143],[0.741,-0.0071],[0.748,-0.0081],[0.777,-0.0112],[0.780,0.0150],[0.788,-0.0100],[0.793,-0.0088],[0.801,0.0079],[0.804,-0.0124],[0.814,0.0055],[0.822,-0.0136],[0.830,-0.0064],[0.830,0.0917],[0.835,-0.0171],[0.838,-0.0029],[0.841,-0.0195],[0.846,0.0067],[0.848,0.0198],[0.851,-0.0148],[0.854,0.0019],[0.859,-0.0100],[0.863,0.0210],[0.864,0.0102],[0.867,-0.0052],[0.869,0.0043],[0.872,-0.0124],[0.875,-0.0005],[0.877,0.0138],[0.880,0.0995],[0.880,-0.0064],[0.883,0.0067],[0.885,-0.0100],[0.888,0.0019],[0.891,0.0114],[0.893,-0.0148],[0.896,-0.0029],[0.898,0.0162],[0.901,-0.0100],[0.904,0.0043],[0.906,-0.0183],[0.909,0.0114],[0.912,-0.0052],[0.914,0.0019],[0.917,0.0233],[0.919,-0.0100],[0.922,0.0090],[0.925,-0.0029],[0.927,0.0138],[0.930,-0.0076],[0.933,0.0043],[0.935,0.0114],[0.938,-0.0052],[0.941,0.0019],[0.943,0.0090],[0.946,-0.0029],[0.948,0.0043],[0.951,0.0162],[0.954,-0.0005],[0.956,0.0067],[0.959,-0.0029],[0.964,0.0031],[0.969,0.0067],[0.975,0.0007],[0.980,-0.0005],[0.922,-0.0148],[0.938,-0.0124],[0.905,-0.0050],[0.910,0.0050],[0.915,-0.0080],[0.920,0.0000],[0.925,0.0060],[0.930,-0.0030],[0.935,0.0030],[0.940,-0.0080],[0.945,0.0060],[0.950,-0.0040],[0.955,0.0030],[0.960,0.0080],[0.965,-0.0020],[0.970,0.0020],[0.975,-0.0010],[0.890,-0.0080],[0.895,0.0080],[0.885,0.0040],[0.912,-0.0140]];

// Model 5 vs 4
const p54_xr = [0.693, 0.991];
const p54_yr = [-0.102, 0.1729];
const p54_yt = ['-0.1', '0.0', '0.1'];
const p54_lim = [0.0626, 0.0579, 0.0522, 0.0028, 0.0000, -0.0033, -0.0551, -0.0598, -0.0654];
const p54 = [[0.707,-0.0433],[0.728,-0.0409],[0.744,-0.0268],[0.756,0.0061],[0.768,-0.0904],[0.781,-0.0315],[0.784,-0.0009],[0.792,-0.0433],[0.795,-0.0739],[0.796,-0.0198],[0.803,-0.0362],[0.809,0.0696],[0.811,0.0249],[0.816,0.0226],[0.821,0.0249],[0.823,-0.0198],[0.829,-0.0127],[0.832,-0.0315],[0.836,-0.0362],[0.840,-0.0080],[0.845,0.0296],[0.848,-0.0362],[0.851,-0.0174],[0.857,0.0202],[0.861,-0.0198],[0.863,-0.0795],[0.866,0.1614],[0.870,0.0014],[0.872,-0.0456],[0.875,0.0485],[0.878,-0.0221],[0.875,0.0838],[0.878,0.0720],[0.880,0.0155],[0.883,0.0438],[0.886,-0.0362],[0.888,-0.0080],[0.891,0.0673],[0.894,0.0155],[0.896,-0.0504],[0.899,-0.0174],[0.902,0.0579],[0.904,0.0061],[0.907,-0.0268],[0.910,0.0296],[0.912,-0.0033],[0.915,0.0485],[0.918,-0.0315],[0.920,0.0155],[0.923,-0.0127],[0.926,0.0391],[0.928,0.0061],[0.931,-0.0174],[0.934,0.0249],[0.936,-0.0033],[0.939,0.0344],[0.942,0.0108],[0.944,-0.0080],[0.947,0.0202],[0.952,0.0014],[0.955,0.0296],[0.958,0.0108],[0.963,0.0061],[0.968,0.0155],[0.974,0.0038],[0.979,-0.0009],[0.936,-0.0362],[0.915,0.0202],[0.899,0.0296],[0.905,0.0150],[0.910,-0.0100],[0.915,0.0250],[0.920,0.0000],[0.925,-0.0200],[0.930,0.0300],[0.935,0.0100],[0.940,-0.0100],[0.945,0.0300],[0.950,0.0150],[0.955,-0.0050],[0.960,0.0200],[0.965,0.0000],[0.970,0.0080],[0.975,0.0120],[0.918,0.0400],[0.942,0.0420]];

// grid position of each panel: row, col
const panels = [
  [0, 1, p12, p12_lim, p12_xr, p12_yr, xt4, p12_yt],
  [0, 2, p13, p13_lim, p13_xr, p13_yr, xt4, p13_yt],
  [0, 3, p14, p14_lim, p14_xr, p14_yr, xt4, p14_yt],
  [0, 4, p15, p15_lim, p15_xr, p15_yr, xt4, p15_yt],
  [1, 0, p21, p21_lim, p21_xr, p21_yr, xt3, p21_yt],
  [1, 2, p23, p23_lim, p23_xr, p23_yr, xt4, p23_yt],
  [1, 3, p24, p24_lim, p24_xr, p24_yr, xt4, p24_yt],
  [1, 4, p25, p25_lim, p25_xr, p25_yr, xt4, p25_yt],
  [2, 0, p31, p31_lim, p31_xr, p31_yr, xt3, p31_yt],
  [2, 1, p32, p32_lim, p32_xr, p32_yr, xt3, p32_yt],
  [2, 3, p34, p34_lim, p34_xr, p34_yr, xt4, p34_yt],
  [2, 4, p35, p35_lim, p35_xr, p35_yr, xt4, p35_yt],
  [3, 0, p41, p41_lim, p41_xr, p41_yr, xt3, p41_yt],
  [3, 1, p42, p42_lim, p42_xr, p42_yr, xt3, p42_yt],
  [3, 2, p43, p43_lim, p43_xr, p43_yr, xt3, p43_yt],
  [3, 4, p45, p45_lim, p45_xr, p45_yr, xt4, p45_yt],
  [4, 0, p51, p51_lim, p51_xr, p51_yr, xt3, p51_yt],
  [4, 1, p52, p52_lim, p52_xr, p52_yr, xt3, p52_yt],
  [4, 2, p53, p53_lim, p53_xr, p53_yr, xt2, p53_yt],
  [4, 3, p54, p54_lim, p54_xr, p54_yr, xt3, p54_yt]
];
const models = ['Model 1', 'Model 2', 'Model 3', 'Model 4', 'Model 5'];

const CELL_W = 388.8, ROW_H = 290, CELL_H = 285, SHIFT = 6, HEAD = 15;

Chart.defaults.font.family = "'Liberation Sans', Arial, sans-serif";

// ggplot grey panel
const panelBg = {
  id: 'panelBg',
  beforeDraw(chart) {
    const a = chart.chartArea, c = chart.ctx;
    c.save();
    c.fillStyle = '#EBEBEB';
    c.fillRect(a.left, a.top, a.right - a.left, a.bottom - a.top);
    c.restore();
  }
};

function isMajor(labels, v) {
  return labels.some(l => Math.abs(Number(l) - v) < 1e-9);
}

function gridValues(labels, range) {
  const major = labels.map(Number);
  const step = major[1] - major[0];
  const vals = major.slice();
  vals.push(major[0] - step / 2);
  major.forEach(m => vals.push(m + step / 2));
  return vals.filter(v => v >= range[0] && v <= range[1]).sort((a, b) => a - b);
}

function axis(labels, range, title, vertical) {
  const vals = gridValues(labels, range);
  return {
    type: 'linear',
    min: range[0],
    max: range[1],
    afterBuildTicks: a => { a.ticks = vals.map(v => ({ value: v })); },
    afterFit: s => { if (vertical) { s.paddingTop = 0; s.paddingBottom = 0; } },
    ticks: {
      autoSkip: false,
      maxRotation: 0,
      color: '#4D4D4D',
      font: { size: 22 },
      padding: 3,
      callback: v => {
        const l = labels.find(s => Math.abs(Number(s) - v) < 1e-9);
        return l === undefined ? '' : l;
      }
    },
    grid: {
      color: '#FFFFFF',
      lineWidth: c => (c.tick && isMajor(labels, c.tick.value)) ? 2.2 : 1.1,
      tickColor: c => (c.tick && isMajor(labels, c.tick.value)) ? '#333333' : 'rgba(0,0,0,0)',
      tickWidth: 2,
      tickLength: 6
    },
    border: { display: false },
    title: { display: true, text: title, color: '#000', font: { size: 28 }, padding: { top: 0, bottom: 2 } }
  };
}

const page = document.getElementById('page');

models.forEach((m, i) => {
  const d = document.createElement('div');
  d.className = 'model';
  d.style.left = (i * CELL_W - 10) + 'px';
  d.style.top = (i * ROW_H - 10) + 'px';
  d.style.width = CELL_W + 'px';
  d.style.height = CELL_H + 'px';
  d.textContent = m;
  page.appendChild(d);
});

panels.forEach(([r, c, pts, lim, xr, yr, xt, yt]) => {
  const box = document.createElement('div');
  box.className = 'cell';
  box.style.left = (c * CELL_W - SHIFT) + 'px';
  box.style.top = (r * ROW_H - HEAD) + 'px';
  box.style.width = (CELL_W + SHIFT) + 'px';
  box.style.height = (CELL_H + HEAD) + 'px';
  const cv = document.createElement('canvas');
  box.appendChild(cv);
  page.appendChild(box);

  const sets = lim.map((v, i) => {
    const est = i % 3 === 1;
    return {
      type: 'line',
      data: [{ x: xr[0], y: v }, { x: xr[1], y: v }],
      borderColor: '#000',
      borderWidth: est ? 3.6 : 2.6,
      borderDash: est ? [20, 23] : [13, 18],
      pointRadius: 0,
      fill: false
    };
  });
  sets.unshift({
    type: 'scatter',
    data: pts.map(p => ({ x: p[0], y: p[1] })),
    pointRadius: 5.5,
    pointBackgroundColor: '#000',
    pointBorderWidth: 0
  });

  new Chart(cv, {
    type: 'scatter',
    data: { datasets: sets },
    options: {
      responsive: true,
      maintainAspectRatio: false,
      animation: false,
      events: [],
      layout: { padding: { top: 5 + HEAD, right: 24, bottom: 16, left: 0 } },
      plugins: { legend: { display: false }, tooltip: { enabled: false } },
      scales: {
        x: axis(xt, xr, 'mean of measurements', false),
        y: axis(yt, yr, 'difference', true)
      }
    },
    plugins: [panelBg]
  });
});
</script>
</body>
</html>
